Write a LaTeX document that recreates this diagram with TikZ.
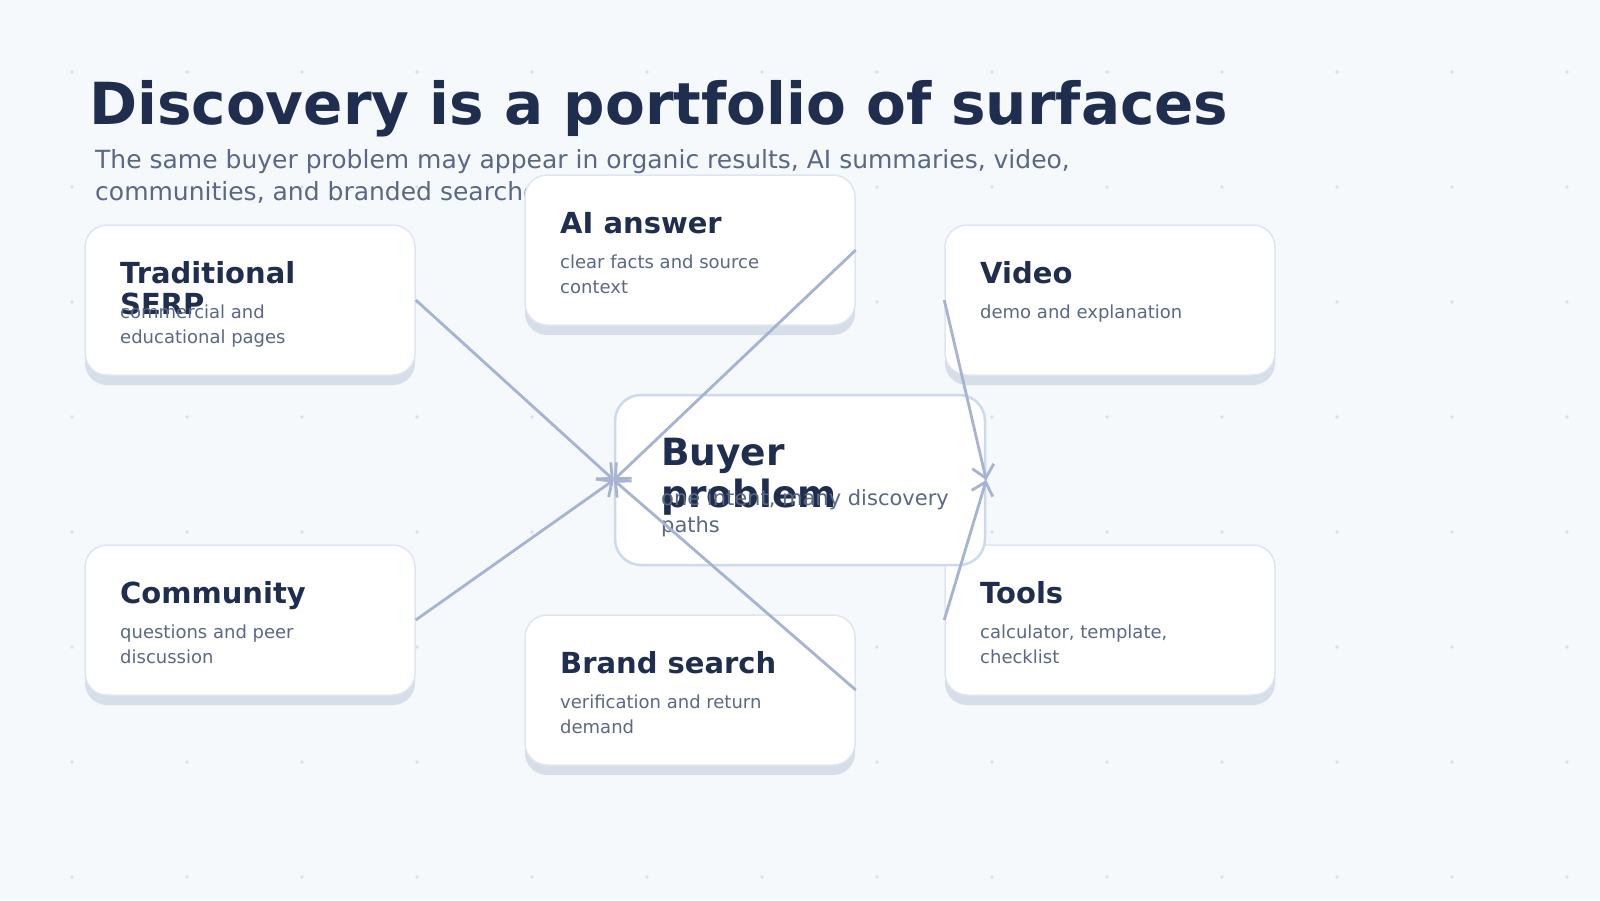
\documentclass[tikz,border=0pt]{standalone}
\usepackage{fontspec}
\setmainfont{DejaVu Sans}
\usetikzlibrary{arrows.meta,shadows}
\definecolor{bg}{HTML}{F5F9FC}
\definecolor{dotc}{HTML}{D9DFE8}
\definecolor{ink}{HTML}{1F2E4E}
\definecolor{sub}{HTML}{5A6785}
\definecolor{cardline}{HTML}{DFE6F0}
\definecolor{shadowc}{HTML}{D6DEEA}
\definecolor{centerline}{HTML}{CDD9EC}
\definecolor{edge}{HTML}{A6B3D1}
\tikzset{
  card/.style={rectangle, rounded corners=22pt, fill=white, draw=cardline, line width=1.5pt,
    minimum width=330pt, minimum height=150pt, inner sep=0pt,
    general shadow={fill=shadowc, shadow yshift=-10pt}},
  centercard/.style={rectangle, rounded corners=26pt, fill=white, draw=centerline, line width=2.5pt,
    minimum width=370pt, minimum height=170pt, inner sep=0pt},
  ttl/.style={anchor=base west, inner sep=0pt, text=ink, font=\fontsize{29}{32}\selectfont\bfseries},
  bodytxt/.style={anchor=base west, inner sep=0pt, text=sub, font=\fontsize{18}{25}\selectfont},
  bigttl/.style={anchor=base west, inner sep=0pt, text=ink, font=\fontsize{37.5}{42}\selectfont\bfseries},
  bigbody/.style={anchor=base west, inner sep=0pt, text=sub, font=\fontsize{21}{27}\selectfont},
  subtxt/.style={anchor=base west, inner sep=0pt, text=sub, font=\fontsize{25}{32}\selectfont},
  conn/.style={draw=edge, line width=2.8pt, -{Straight Barb[length=12pt,width=22pt]}}
}
\begin{document}
\begin{tikzpicture}[x=1pt,y=-1pt]
\useasboundingbox (0,0) rectangle (1600,900);
\fill[bg] (0,0) rectangle (1600,900);
\foreach \i in {0,...,13}{\foreach \j in {0,...,7}{\fill[dotc] (72+115*\i,72+115*\j) circle (1.8pt);}}
% heading
\node[anchor=base west, inner sep=0pt, text=ink, font=\fontsize{58}{64}\selectfont\bfseries] (title) at (89,124) {Discovery is a portfolio of surfaces};
\node[subtxt] (sub1) at (95,168.5) {The same buyer problem may appear in organic results, AI summaries, video,};
\node[subtxt] (sub2) at (95,200) {communities, and branded searches.};
% cards
\node[card] (serp) at (250,300) {};
\node[card] (ai) at (690,250) {};
\node[card] (video) at (1110,300) {};
\node[card] (community) at (250,620) {};
\node[card] (tools) at (1110,620) {};
\node[card] (brand) at (690,690) {};
\node[centercard] (center) at (800,480) {};
% card texts
\node[ttl] (serpt1) at (120,283) {Traditional};
\node[ttl] (serpt2) at (120,314) {SERP};
\node[bodytxt] (serpb1) at (120,318) {commercial and};
\node[bodytxt] (serpb2) at (120,343) {educational pages};
\node[ttl] (ait) at (560,233) {AI answer};
\node[bodytxt] (aib1) at (560,268) {clear facts and source};
\node[bodytxt] (aib2) at (560,293) {context};
\node[ttl] (videot) at (980,283) {Video};
\node[bodytxt] (videob) at (980,318) {demo and explanation};
\node[ttl] (commt) at (120,603) {Community};
\node[bodytxt] (commb1) at (120,638) {questions and peer};
\node[bodytxt] (commb2) at (120,663) {discussion};
\node[ttl] (toolst) at (980,603) {Tools};
\node[bodytxt] (toolsb1) at (980,638) {calculator, template,};
\node[bodytxt] (toolsb2) at (980,663) {checklist};
\node[ttl] (brandt) at (560,673) {Brand search};
\node[bodytxt] (brandb1) at (560,708) {verification and return};
\node[bodytxt] (brandb2) at (560,733) {demand};
\node[bigttl] (centert1) at (661,465) {Buyer};
\node[bigttl] (centert2) at (661,507) {problem};
\node[bigbody] (centerb1) at (661,505) {one intent, many discovery};
\node[bigbody] (centerb2) at (661,532) {paths};
% connectors
\draw[conn] (serp.east) -- (center.west);
\draw[conn] (ai.east) -- (center.west);
\draw[conn] (community.east) -- (center.west);
\draw[conn] (brand.east) -- (center.west);
\draw[conn] (video.west) -- (center.east);
\draw[conn] (tools.west) -- (center.east);
\end{tikzpicture}
\end{document}
